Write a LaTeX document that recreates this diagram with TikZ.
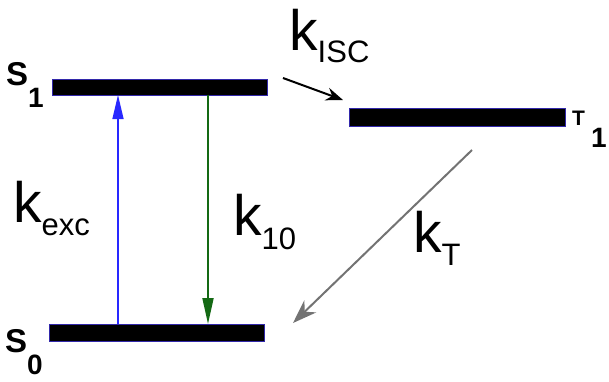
\documentclass[tikz,border=0pt]{standalone}
\usepackage{fontspec}
\setmainfont{Liberation Sans}
\usetikzlibrary{arrows.meta}
\definecolor{excblue}{RGB}{40,40,255}
\definecolor{fluogreen}{RGB}{20,105,20}
\definecolor{tripgray}{RGB}{115,115,115}
\definecolor{rimblue}{RGB}{50,40,170}
\newcommand{\rate}[2][13pt]{\fontsize{57}{60}\selectfont k\raisebox{-#1}{\fontsize{31}{31}\selectfont #2}}
\newcommand{\lvl}[2]{\bfseries\fontsize{33}{33}\selectfont #1\raisebox{-22pt}{\fontsize{28}{28}\selectfont #2}}

\begin{document}
\begin{tikzpicture}[x=1pt,y=-1pt,
  level/.style={draw=rimblue, line width=0.8pt, fill=black, inner sep=0pt, outer sep=0pt},
  lbl/.style={anchor=base west, inner sep=0pt}]
\useasboundingbox (0,0) rectangle (609,381);
\node[level, minimum width=215, minimum height=16] (s1) at (159.5,87) {};
\node[level, minimum width=215, minimum height=17] (s0) at (156.5,332.5) {};
\node[level, minimum width=216, minimum height=18] (t1) at (457,117) {};
\coordinate (exc) at (118,0);
\coordinate (fluo) at (208,0);
\draw[excblue, line width=1.4pt, -{Triangle[length=24pt,width=11pt]}] (s0.north -| exc) -- (s1.south -| exc);
\draw[fluogreen, line width=1.8pt, -{Triangle[length=26pt,width=11pt]}] (s1.south -| fluo) -- (s0.north -| fluo);
\draw[black, line width=2pt, -{Stealth[length=17pt,width=13pt]}] ([shift={(16,-9)}]s1.east) -- ([shift={(-6,-8)}]t1.north west);
\draw[tripgray, line width=2pt, -{Stealth[length=24pt,width=17pt]}] ([shift={(15,24)}]t1.south) -- ([shift={(29,-1)}]s0.north east);
\node[lbl] (kexc) at (13,222) {\rate{exc}};
\node[lbl] (k10) at (233,235) {\rate[14pt]{10}};
\node[lbl] (kisc) at (289,50) {\rate[12pt]{ISC}};
\node[lbl] (kt) at (413,252) {\rate{T}};
\node[lbl] (s1lbl) at (6,85) {\lvl{S}{1}};
\node[lbl] (s0lbl) at (5,352) {\lvl{S}{0}};
\node[lbl] (t1lbl) at (572,125) {\bfseries\fontsize{21}{21}\selectfont T\hspace{6pt}\raisebox{-22pt}{\fontsize{28}{28}\selectfont 1}};
\end{tikzpicture}
\end{document}
